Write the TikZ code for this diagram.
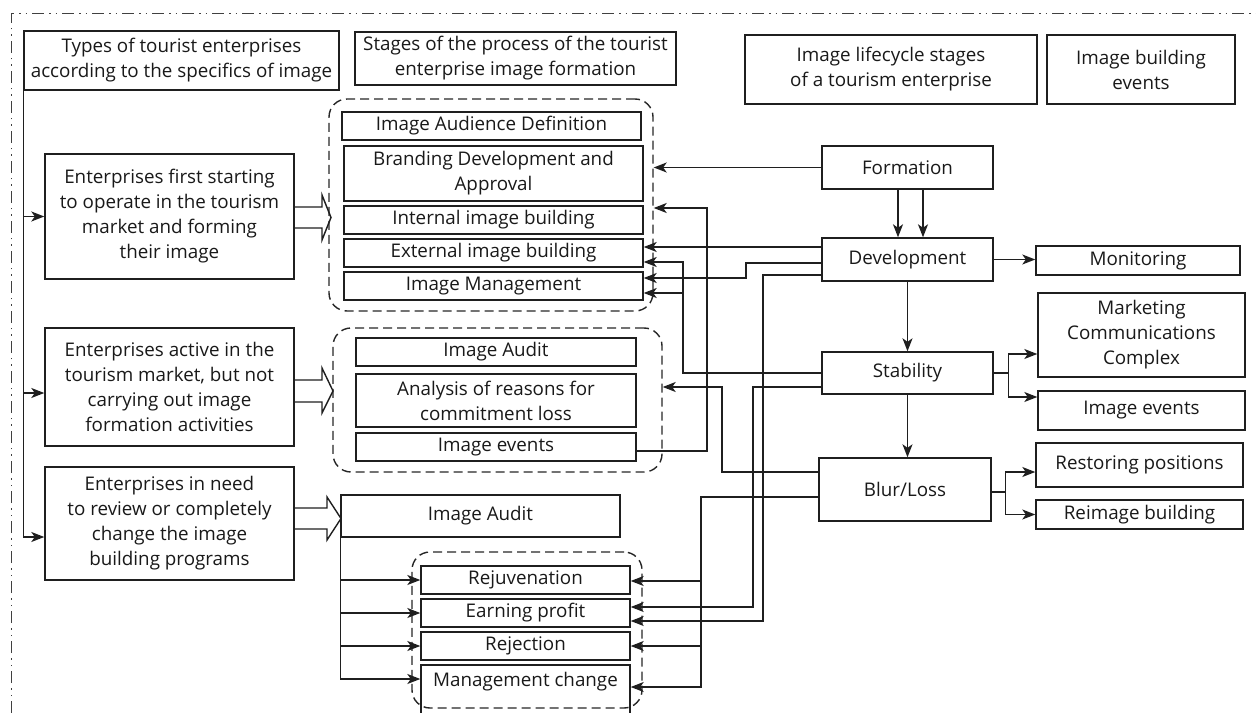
\documentclass[tikz,border=0pt]{standalone}
\usepackage{fontspec}
\setmainfont{Open Sans}
\usetikzlibrary{arrows.meta}
\newcommand{\mkbox}[6]{\node[box, minimum width={(#4-#2)*1bp}, minimum height={(#5-#3)*1bp}] (#1) at ({(#2+#4)/2},{(#3+#5)/2}) {#6};}
\newcommand{\mkgrp}[5]{\node[grp, minimum width={(#4-#2)*1bp}, minimum height={(#5-#3)*1bp}] (#1) at ({(#2+#4)/2},{(#3+#5)/2}) {};}
\begin{document}
\begin{tikzpicture}[x=1bp, y=-1bp,
  every node/.style={font=\fontsize{18.8bp}{25bp}\selectfont, text=black!90},
  box/.style={draw=black!88, line width=1.4bp, inner sep=0pt, align=center},
  grp/.style={draw=black!85, line width=1.4bp, dash pattern=on 9bp off 5bp, rounded corners=18bp, inner sep=0pt},
  arr/.style={draw=black!88, line width=1.4bp, -{Stealth[length=13bp, width=10bp, inset=3.5bp]}},
  ln/.style={draw=black!88, line width=1.4bp},
  hollow/.style={draw=black!88, line width=1.4bp, line join=miter}]
\useasboundingbox (0,0) rectangle (1256,713);
% outer frame
\draw[black!75, line width=1bp, dash pattern=on 12bp off 5bp on 1.5bp off 5bp on 1.5bp off 5bp] (11,713) -- (11,14) -- (1256,14);
% groups
\mkgrp{g1}{329}{99}{653}{311}
\mkgrp{g2}{333}{328}{662}{472}
\mkgrp{g3}{412}{552}{642}{708}
% headers
\mkbox{h1}{24}{31}{339}{90}{Types of tourist enterprises\\according to the specifics of image}
\mkbox{h2}{355}{32}{676}{85}{Stages of the process of the tourist\\enterprise image formation}
\mkbox{h3}{745}{35}{1037}{104}{Image lifecycle stages\\of a tourism enterprise}
\mkbox{h4}{1047}{35}{1235}{104}{Image building\\events}
% left column
\mkbox{l1}{45}{154}{294}{279}{Enterprises first starting\\to operate in the tourism\\market and forming\\their image}
\mkbox{l2}{45}{328}{294}{446}{Enterprises active in the\\tourism market, but not\\carrying out image\\formation activities}
\mkbox{l3}{45}{467}{294}{580}{Enterprises in need\\to review or completely\\change the image\\building programs}
% group 1
\mkbox{aud}{342}{112}{641}{140}{Image Audience Definition}
\mkbox{brand}{344}{146}{643}{201}{Branding Development and\\Approval}
\mkbox{int}{344}{206}{643}{234}{Internal image building}
\mkbox{ext}{344}{239}{643}{267}{External image building}
\mkbox{mgmt}{344}{272}{643}{300}{Image Management}
% group 2
\mkbox{aud2}{356}{338}{636}{366}{Image Audit}
\mkbox{ana}{356}{374}{636}{427}{Analysis of reasons for\\commitment loss}
\mkbox{ev2}{356}{433}{636}{461}{Image events}
% group 3
\mkbox{aud3}{341}{495}{620}{537}{Image Audit}
\mkbox{rejuv}{421}{566}{630}{594}{Rejuvenation}
\mkbox{ep}{421}{599}{630}{627}{Earning profit}
\mkbox{rejec}{421}{632}{630}{660}{Rejection}
\mkbox{mc}{421}{665}{630}{722}{}
\node (mct) at (525.5,682) {Management change};
% lifecycle
\mkbox{form}{822}{146}{993}{189}{Formation}
\mkbox{dev}{822}{238}{993}{281}{Development}
\mkbox{stab}{822}{352}{993}{394}{Stability}
\mkbox{blur}{819}{458}{991}{521}{Blur/Loss}
% events
\mkbox{mon}{1036}{246}{1240}{275}{Monitoring}
\mkbox{mcc}{1038}{293}{1245}{377}{Marketing\\Communications\\Complex}
\mkbox{ie}{1038}{391}{1245}{430}{Image events}
\mkbox{rp}{1036}{443}{1243}{487}{Restoring positions}
\mkbox{rb}{1036}{500}{1243}{529}{Reimage building}
% hollow arrows
\draw[hollow] (294,207) -- (322,207) -- (322,195) -- (331,217.5) -- (322,240) -- (322,228) -- (294,228);
\draw[hollow] (294,380) -- (322,380) -- (322,368) -- (333,391) -- (322,413) -- (322,402) -- (294,402);
\draw[hollow] (294,508) -- (327,508) -- (327,497) -- (341,518.5) -- (327,540) -- (327,529) -- (294,529);
% left bus
\draw[arr] (h1.south west) |- (l1.west);
\draw[arr] (h1.south west) |- ([yshift=-6bp]l2.west);
\draw[arr] (h1.south west) |- ([yshift=-13.5bp]l3.west);
% group 3 bus
\draw[arr] (aud3.south west) |- (rejuv.west);
\draw[arr] (aud3.south west) |- (ep.west);
\draw[arr] (aud3.south west) |- (rejec.west);
\draw[arr] (aud3.south west) |- ([yshift=14.5bp]mc.west);
% lifecycle chain
\draw[arr] ([xshift=-9.5bp]form.south) coordinate (t) -- (t |- dev.north);
\draw[arr] ([xshift=15.5bp]form.south) coordinate (t) -- (t |- dev.north);
\draw[arr] (dev.south) -- (stab.north);
\draw[arr] (stab.south) coordinate (t) -- (t |- blur.north);
\draw[arr] (dev.east) coordinate (t) -- (t -| mon.west);
% stability branches
\draw[ln] (stab.east) -- ++(15bp,0) coordinate (sb);
\draw[arr] (sb) |- ([yshift=-19bp]mcc.west);
\draw[arr] (sb) |- ([yshift=13.5bp]ie.west);
% blur branches
\draw[ln] ([yshift=-2.5bp]blur.east) -- ++(14bp,0) coordinate (bb);
\draw[arr] (bb) |- ([yshift=-7bp]rp.west);
\draw[arr] (bb) |- (rb.west);
% formation -> group 1
\draw[arr] (form.west) coordinate (t) -- (t -| g1.east);
% development -> stages
\draw[arr] ([yshift=12.5bp]dev.west) coordinate (t) -- (t -| ext.east);
\draw[arr] ([yshift=-3.5bp]dev.west) -| (746,278) coordinate (t) -- (t -| mgmt.east);
\draw[arr] ([yshift=-15.5bp]dev.west) -| (763,621) coordinate (t) -- (t -| ep.east);
% stability -> stages
\draw[arr] (stab.west) -| (683,262) coordinate (t) -- (t -| ext.east);
\draw[arr] (stab.west) -| (683,293) coordinate (t) -- (t -| mgmt.east);
\draw[arr] ([yshift=-14bp]stab.west) -| (753,607) coordinate (t) -- (t -| ep.east);
% image events -> group 1
\draw[arr] ([yshift=-4bp]ev2.east) -| (707,208) coordinate (t) -- (t -| g1.east);
% blur -> stages
\draw[arr] ([yshift=17.5bp]blur.west) -| (722,387) coordinate (t) -- (t -| g2.east);
\draw[arr] ([yshift=-7.5bp]blur.west) -| (701,581) coordinate (t) -- (t -| rejuv.east);
\draw[arr] ([yshift=-7.5bp]blur.west) -| (701,646) coordinate (t) -- (t -| rejec.east);
\draw[arr] ([yshift=-7.5bp]blur.west) -| (701,687) coordinate (t) -- (t -| mc.east);
\end{tikzpicture}
\end{document}
